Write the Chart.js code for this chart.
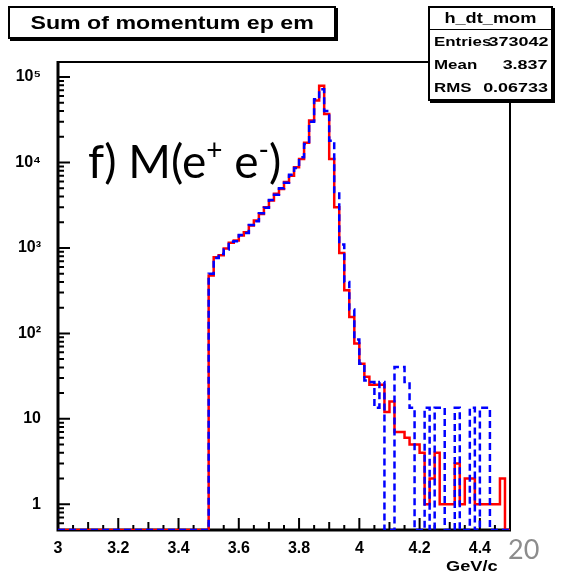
<!DOCTYPE html>
<html>
<head>
<meta charset="utf-8">
<script src="https://cdn.jsdelivr.net/npm/chart.js@4.4.1/dist/chart.umd.min.js"></script>
<style>
  html, body { margin: 0; padding: 0; background: #fff; }
  #wrap { position: relative; width: 565px; height: 578px; background: #fff; overflow: hidden; }
  #c { position: absolute; left: 0; top: 0; }
  .root { font-family: "Liberation Sans", Arial, sans-serif; font-weight: bold; color: #000; }
  .sx { display: inline-block; white-space: nowrap; }
  #title { position: absolute; left: 8px; top: 6px; width: 324px; height: 29px; border: 2px solid #000;
           box-shadow: 2px 2px 0 #000; background: #fff; text-align: center; line-height: 29px; font-size: 19px; }
  #title .sx { transform: scaleX(1.22); }
  #stats { position: absolute; left: 428px; top: 6px; width: 121px; height: 91px; border: 2px solid #000;
           box-shadow: 2px 2px 0 #000; background: #fff; font-size: 13px; }
  #stats .hd { height: 21px; line-height: 21px; text-align: center; border-bottom: 1.5px solid #000; font-size: 14px; }
  #stats .hd .sx { transform: scaleX(1.3); }
  #stats .row { position: relative; height: 23px; line-height: 23px; }
  #stats .row .l { position: absolute; left: 4px; transform-origin: left center; transform: scaleX(1.3); }
  #stats .row .r { position: absolute; right: 3px; transform-origin: right center; transform: scaleX(1.38); }
  #ann { position: absolute; left: 88px; top: 138px; font-family: Lato, "Open Sans", sans-serif; font-size: 46px; line-height: 1; color: #000; white-space: nowrap; }
  #ann sup { font-size: 28px; vertical-align: 0; position: relative; top: -18px; }
  #page { position: absolute; left: 508px; top: 532px; font-family: Lato, "Open Sans", sans-serif; font-size: 27px; color: #8c8c8c; }
  #xtitle { position: absolute; left: 446px; top: 558px; font-size: 14px; }
  #xtitle .sx { transform-origin: left center; transform: scaleX(1.3); }
</style>
</head>
<body>
<div id="wrap">
  <canvas id="c" width="565" height="578"></canvas>
  <div id="title" class="root"><span class="sx">Sum of momentum ep em</span></div>
  <div id="stats" class="root">
    <div class="hd"><span class="sx">h_dt_mom</span></div>
    <div class="row"><span class="sx l">Entries</span><span class="sx r">373042</span></div>
    <div class="row"><span class="sx l">Mean</span><span class="sx r">3.837</span></div>
    <div class="row"><span class="sx l">RMS</span><span class="sx r">0.06733</span></div>
  </div>
  <div id="ann">f) M(e<sup>+</sup> e<sup>-</sup>)</div>
  <div id="page">20</div>
  <div id="xtitle" class="root"><span class="sx">GeV/c</span></div>
</div>
<script>
// ---- binning (3.0 to 4.5 GeV/c, 90 bins) ----
const binStart = 3.0;
const binWidth = 1 / 60;

// ---- histogram contents (bins 0..89) ----
const dataRed = [
  0,0,0,0,0,0,0,0,0,0, 0,0,0,0,0,0,0,0,0,0, 0,0,0,0,0,0,0,0,0,0,
  475, 780, 820, 985, 1150, 1220, 1400, 1530, 1830, 2100,
  2500, 3000, 3600, 4300, 4900, 5900, 7000, 8800, 11000, 17000,
  31000, 53000, 79000, 37000, 11000, 3000, 870, 320, 155, 76,
  44, 31, 25, 25, 25, 12, 16, 7, 7, 6,
  5, 5, 4, 1, 2, 4, 1, 1, 1, 3,
  1, 2, 2, 1, 1, 1, 1, 1, 2, 0
];
const dataBlue = [
  0,0,0,0,0,0,0,0,0,0, 0,0,0,0,0,0,0,0,0,0, 0,0,0,0,0,0,0,0,0,0,
  500, 760, 850, 960, 1180, 1200, 1420, 1500, 1850, 2050,
  2550, 2950, 3650, 4200, 5000, 5800, 7200, 8600, 11500, 16500,
  30000, 55000, 72000, 40000, 18000, 4500, 1100, 400, 190, 85,
  44, 28, 27, 13.5, 27, 0, 0, 40.5, 40.5, 27,
  13.5, 0, 0, 13.5, 0, 13.5, 13.5, 0, 0, 13.5,
  0, 0, 13.5, 0, 13.5, 13.5, 0, 0, 0, 0
];

// ---- axis tick labels ----
const xTickValues = [3, 3.2, 3.4, 3.6, 3.8, 4, 4.2, 4.4];
const xTickLabels = ['3', '3.2', '3.4', '3.6', '3.8', '4', '4.2', '4.4'];
const yTickValues = [1, 10, 100, 1000, 10000, 100000];
const yTickLabels = ['1', '10', '10\u00B2', '10\u00B3', '10\u2074', '10\u2075'];

const yMin = 0.5, yMax = 1.5e5;

function stepPoints(counts) {
  const pts = counts.map((c, i) => ({ x: binStart + i * binWidth, y: c > 0 ? c : yMin }));
  const last = counts[counts.length - 1];
  pts.push({ x: binStart + counts.length * binWidth, y: last > 0 ? last : yMin });
  return pts;
}

const frameTicks = {
  id: 'frameTicks',
  beforeDatasetsDraw(chart) {
    const { ctx, chartArea: a, scales: { x, y } } = chart;
    ctx.save();
    ctx.strokeStyle = '#000';
    ctx.lineWidth = 2;
    ctx.beginPath();
    for (let k = 0; k <= 30; k++) {
      const v = 3 + k * 0.05;
      const px = x.getPixelForValue(v);
      const len = (k % 4 === 0) ? 12 : (k % 2 === 0 ? 8 : 5);
      ctx.moveTo(px, a.bottom);
      ctx.lineTo(px, a.bottom - len);
    }
    for (let e = -1; e <= 5; e++) {
      for (let m = 1; m <= 9; m++) {
        const v = m * Math.pow(10, e);
        if (v < yMin || v > yMax) continue;
        const py = y.getPixelForValue(v);
        const len = (m === 1) ? 12 : 6;
        ctx.moveTo(a.left, py);
        ctx.lineTo(a.left + len, py);
      }
    }
    ctx.stroke();
    ctx.lineWidth = 2;
    ctx.strokeRect(a.left, a.top, a.right - a.left, a.bottom - a.top);
    ctx.lineWidth = 3;
    ctx.beginPath();
    ctx.moveTo(a.left, a.top - 1);
    ctx.lineTo(a.left, a.bottom);
    ctx.lineTo(a.right + 1, a.bottom);
    ctx.stroke();
    ctx.restore();
  }
};

new Chart(document.getElementById('c'), {
  type: 'line',
  data: {
    datasets: [
      {
        label: 'blue',
        data: stepPoints(dataBlue),
        borderColor: '#0000ff',
        borderWidth: 2.5,
        borderDash: [7, 4],
        stepped: 'before',
        pointRadius: 0,
        fill: false,
        order: 1
      },
      {
        label: 'red',
        data: stepPoints(dataRed),
        borderColor: '#ff0000',
        borderWidth: 2.5,
        stepped: 'before',
        pointRadius: 0,
        fill: false,
        order: 2
      }
    ]
  },
  options: {
    responsive: false,
    animation: false,
    devicePixelRatio: 1,
    layout: { padding: { top: 62, right: 55, left: 0, bottom: 0 } },
    plugins: { legend: { display: false }, tooltip: { enabled: false }, title: { display: false } },
    scales: {
      x: {
        type: 'linear',
        min: 3, max: 4.5,
        grid: { display: false },
        border: { display: false },
        afterFit(s) { s.height = 48; },
        afterBuildTicks(s) { s.ticks = xTickValues.map(v => ({ value: v })); },
        ticks: {
          padding: 1,
          maxRotation: 0,
          autoSkip: false,
          color: '#000',
          font: { family: 'Liberation Sans', weight: 'bold', size: 16 },
          callback: (v) => { const i = xTickValues.findIndex(t => Math.abs(t - v) < 1e-9); return i >= 0 ? xTickLabels[i] : ''; }
        }
      },
      y: {
        type: 'logarithmic',
        min: yMin, max: yMax,
        grid: { display: false },
        border: { display: false },
        afterFit(s) { s.width = 58; },
        afterBuildTicks(s) { s.ticks = yTickValues.map(v => ({ value: v })); },
        ticks: {
          padding: 9,
          autoSkip: false,
          color: '#000',
          font: { family: 'Liberation Sans', weight: 'bold', size: 16 },
          callback: (v) => { const i = yTickValues.findIndex(t => Math.abs(t - v) / t < 1e-9); return i >= 0 ? yTickLabels[i] : ''; }
        }
      }
    }
  },
  plugins: [frameTicks]
});
</script>
</body>
</html>
